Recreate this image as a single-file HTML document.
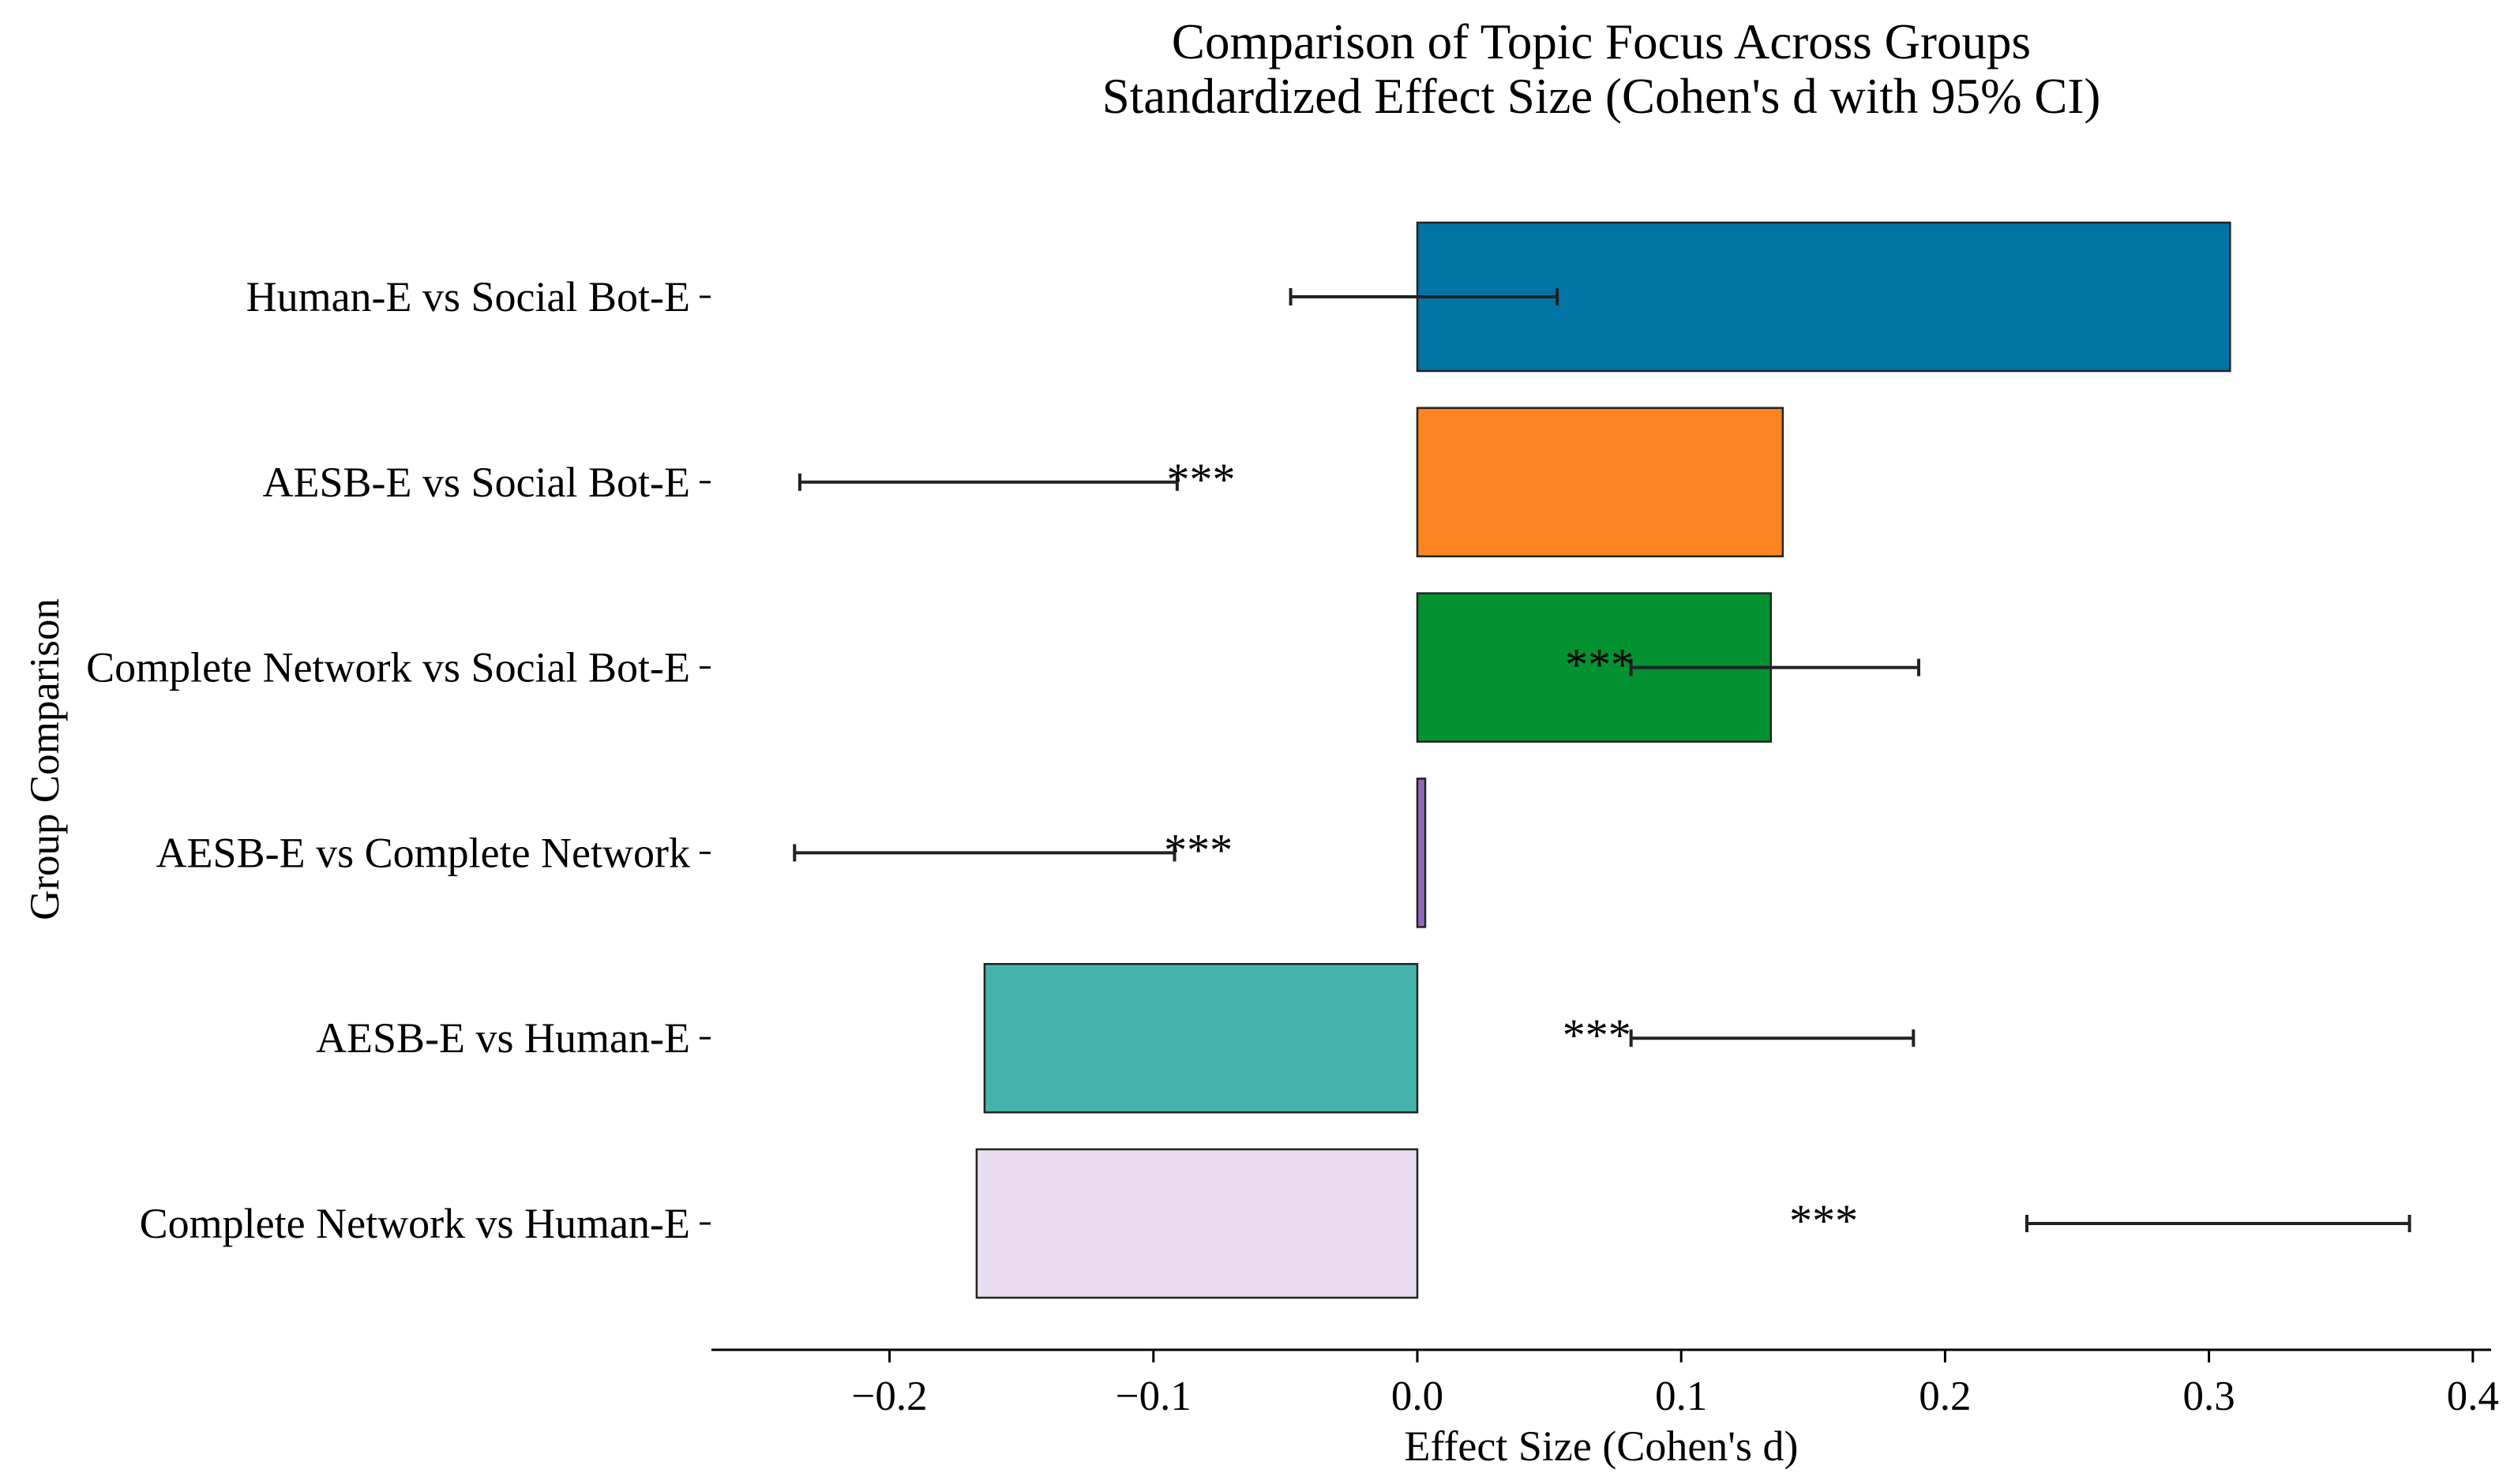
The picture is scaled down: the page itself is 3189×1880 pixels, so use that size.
<!DOCTYPE html>
<html><head><meta charset="utf-8"><style>
html,body{margin:0;padding:0;background:#fff}
svg{display:block}
text{font-family:"Liberation Serif","Times New Roman",serif;fill:#000}
</style></head><body>
<svg id="chart" width="3189" height="1880" viewBox="0 0 3189 1880" xmlns="http://www.w3.org/2000/svg">
<text x="2028" y="74" font-size="63" text-anchor="middle">Comparison of Topic Focus Across Groups</text>
<text x="2028" y="143" font-size="63" text-anchor="middle">Standardized Effect Size (Cohen's d with 95% CI)</text>
<text x="0" y="0" font-size="53" text-anchor="middle" transform="translate(74,962) rotate(-90)">Group Comparison</text>
<text x="2028" y="1850" font-size="54" text-anchor="middle">Effect Size (Cohen's d)</text>
<g id="plot"></g>
</svg>
<script>
const categories = ["Human-E vs Social Bot-E","AESB-E vs Social Bot-E","Complete Network vs Social Bot-E","AESB-E vs Complete Network","AESB-E vs Human-E","Complete Network vs Human-E"];
const effects = [0.308, 0.1385, 0.134, 0.003, -0.164, -0.167];
const ciLow = [-0.048, -0.234, 0.081, -0.236, 0.081, 0.231];
const ciHigh = [0.053, -0.091, 0.190, -0.092, 0.188, 0.376];
const sigLabels = ["", "***", "***", "***", "***", "***"];
const sigPos = [null, -0.082, 0.069, -0.083, 0.068, 0.154];
const colors = ["#0173a5","#fd8421","#029232","#9467bd","#45b3ab","#e8dcee"];
const xTicks = [-0.2,-0.1,0.0,0.1,0.2,0.3,0.4];
const xTickLabels = ["\u22120.2","\u22120.1","0.0","0.1","0.2","0.3","0.4"];

const NS="http://www.w3.org/2000/svg";
const g=document.getElementById('plot');
const x0=1795, pxPer=3342;
function xs(v){return x0+v*pxPer;}
function ys(i){return 376+i*234.8;}
const barH=188;
function mk(tag,attrs){const e=document.createElementNS(NS,tag);for(const k in attrs)e.setAttribute(k,attrs[k]);g.appendChild(e);return e;}

categories.forEach((c,i)=>{
  const y=ys(i);
  const a=Math.min(xs(0),xs(effects[i])), b=Math.max(xs(0),xs(effects[i]));
  const r=mk('rect',{x:a,y:y-barH/2,width:Math.max(b-a,2),height:barH,fill:colors[i],stroke:'#222',"stroke-width":2.5});
  
  
  const l=mk('text',{x:874,y:y+18,"font-size":54,"text-anchor":"end"});
  l.textContent=c;
  
  
  const t=mk('line',{x1:886,x2:900,y1:y,y2:y,stroke:'#000',"stroke-width":3});
  
  
  const eg=document.createElementNS(NS,'g');g.appendChild(eg);
  
  
  const lo=xs(ciLow[i]), hi=xs(ciHigh[i]);
  [[lo,y,hi,y],[lo,y-11,lo,y+11],[hi,y-11,hi,y+11]].forEach(p=>{
    const ln=document.createElementNS(NS,'line');
    ln.setAttribute('x1',p[0]);ln.setAttribute('y1',p[1]);ln.setAttribute('x2',p[2]);ln.setAttribute('y2',p[3]);
    ln.setAttribute('stroke','#222');ln.setAttribute('stroke-width',4);eg.appendChild(ln);
  });
  if(sigLabels[i]){
    const s=mk('text',{x:xs(sigPos[i]),y:y+16,"font-size":58,"text-anchor":"middle"});
    s.textContent=sigLabels[i];
    
    
  }
});
const ax=mk('line',{x1:901,x2:3155,y1:1710,y2:1710,stroke:'#000',"stroke-width":3});


xTicks.forEach((v,i)=>{
  const t=mk('line',{x1:xs(v),x2:xs(v),y1:1710,y2:1726,stroke:'#000',"stroke-width":3});
  
  
  const l=mk('text',{x:xs(v),y:1786,"font-size":53,"text-anchor":"middle"});
  l.textContent=xTickLabels[i];
  
  
});
</script>
</body></html>
